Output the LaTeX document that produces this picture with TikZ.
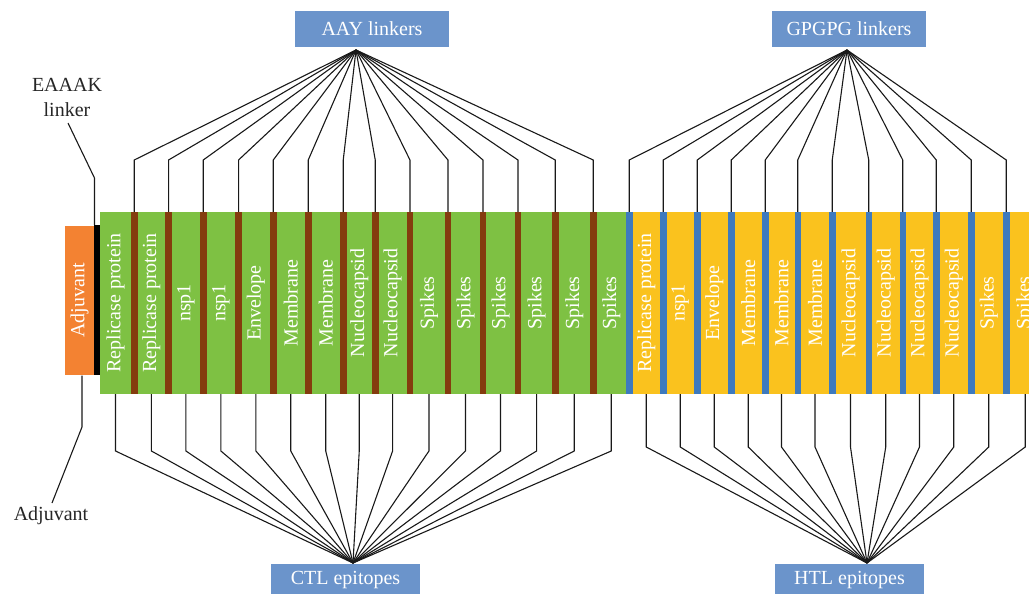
\documentclass[tikz,border=0pt]{standalone}
\usepackage{fontspec}
\setmainfont{Liberation Serif}
\definecolor{segG}{RGB}{126,193,67}
\definecolor{segY}{RGB}{250,194,30}
\definecolor{lnkB}{RGB}{132,60,14}
\definecolor{lnkU}{RGB}{62,122,190}
\definecolor{boxU}{RGB}{107,148,203}
\definecolor{adjO}{RGB}{243,130,50}
\begin{document}
\begin{tikzpicture}[x=1pt,y=-1pt,
  seg/.style={fill=#1, draw=none, minimum height=182, inner sep=0, text=white, font=\fontsize{20}{24}\selectfont},
  lk/.style={fill=#1, draw=none, minimum width=6.5, minimum height=182, inner sep=0},
  lbox/.style={fill=boxU, text=white, minimum width=154, minimum height=36, inner sep=0, font=\fontsize{20}{24}\selectfont},
  lbl/.style={text=black!85, inner sep=0, align=center, font=\fontsize{20}{25}\selectfont},
  conn/.style={draw=black!90, line width=1.1pt, line join=miter}]
\useasboundingbox (0,0) rectangle (1029,594);
\clip (0,0) rectangle (1029,594);
\fill[white] (0,0) rectangle (1029,594);

% adjuvant and EAAAK linker
\node[fill=adjO, minimum width=29, minimum height=149, inner sep=0, text=white, font=\fontsize{20}{24}\selectfont] (adj) at (79.5,300.5) {\rotatebox{90}{Adjuvant}};
\node[fill=black, minimum width=6, minimum height=150, inner sep=0] (blk) at (97,300) {};

% green segments (CTL)
\foreach \l/\r/\t [count=\i] in {100/131/Replicase protein,137.5/165.3/Replicase protein,171.8/200/nsp1,206.5/235.3/nsp1,241.8/270/Envelope,276.5/305/Membrane,311.5/340/Membrane,346.5/372/Nucleocapsid,378.5/406.7/Nucleocapsid,413.2/444.7/Spikes,451.2/479.7/Spikes,486.2/514.7/Spikes,521.2/552/Spikes,558.5/590/Spikes,596.5/626/Spikes}{
  \pgfmathsetmacro\w{\r-\l}
  \pgfmathsetmacro\c{(\l+\r)/2}
  \node[seg=segG, minimum width=\w] (g\i) at (\c,303) {\rotatebox{90}{\t}};
}
% yellow segments (HTL)
\foreach \l/\r/\t [count=\i] in {632.5/660/Replicase protein,666.5/694/nsp1,700.5/728/Envelope,734.5/762/Membrane,768.5/794.5/Membrane,801/829/Membrane,835.5/865.5/Nucleocapsid,872/899.5/Nucleocapsid,906/933/Nucleocapsid,939.5/968/Nucleocapsid,974.5/1003/Spikes,1009.5/1041/Spikes}{
  \pgfmathsetmacro\w{\r-\l}
  \pgfmathsetmacro\c{(\l+\r)/2}
  \node[seg=segY, minimum width=\w] (y\i) at (\c,303) {\rotatebox{90}{\t}};
}
% AAY linkers (brown)
\foreach \x [count=\i] in {131,165.3,200,235.3,270,305,340,372,406.7,444.7,479.7,514.7,552,590}{
  \node[lk=lnkB] (b\i) at (\x+3.25,303) {};
}
% GPGPG linkers (blue)
\foreach \x [count=\i] in {626,660,694,728,762,794.5,829,865.5,899.5,933,968,1003}{
  \node[lk=lnkU] (u\i) at (\x+3.25,303) {};
}

% label boxes
\node[lbox] (aay) at (372,29) {AAY linkers};
\node[lbox] (gpg) at (849,29) {GPGPG linkers};
\node[lbox, minimum width=149, minimum height=32] (ctl) at (345.5,580) {CTL epitopes};
\node[lbox, minimum width=149, minimum height=32] (htl) at (849.5,580) {HTL epitopes};

% hubs and elbow levels
\coordinate (hubA) at (356,50);
\coordinate (hubG) at (847,50);
\coordinate (hubC) at (353,563);
\coordinate (hubH) at (867,563);
\coordinate (elbTop) at (0,160);
\coordinate (elbC) at (0,451);
\coordinate (elbH) at (0,447);

\foreach \i in {1,...,14}{
  \draw[conn] (b\i.north) -- (b\i.north |- elbTop) -- (hubA);
}
\foreach \i in {1,...,12}{
  \draw[conn] (u\i.north) -- (u\i.north |- elbTop) -- (hubG);
}
\foreach \i in {1,...,15}{
  \draw[conn] (g\i.south) -- (g\i.south |- elbC) -- (hubC);
}
\foreach \i in {1,...,12}{
  \draw[conn] (y\i.south) -- (y\i.south |- elbH) -- (hubH);
}

% side labels
\node[lbl] (eaaak) at (67,97) {EAAAK\\linker};
\coordinate (e0) at (68,123);
\coordinate (e1) at (94.5,178);
\draw[conn] (e0) -- (e1) -- (e1 |- blk.north);

\node[lbl] (adjlbl) at (51,516) {Adjuvant};
\coordinate (a0) at (82,375.5);
\coordinate (a1) at (82,427);
\coordinate (a2) at (52,503);
\draw[conn] (a0) -- (a1) -- (a2);
\end{tikzpicture}
\end{document}
